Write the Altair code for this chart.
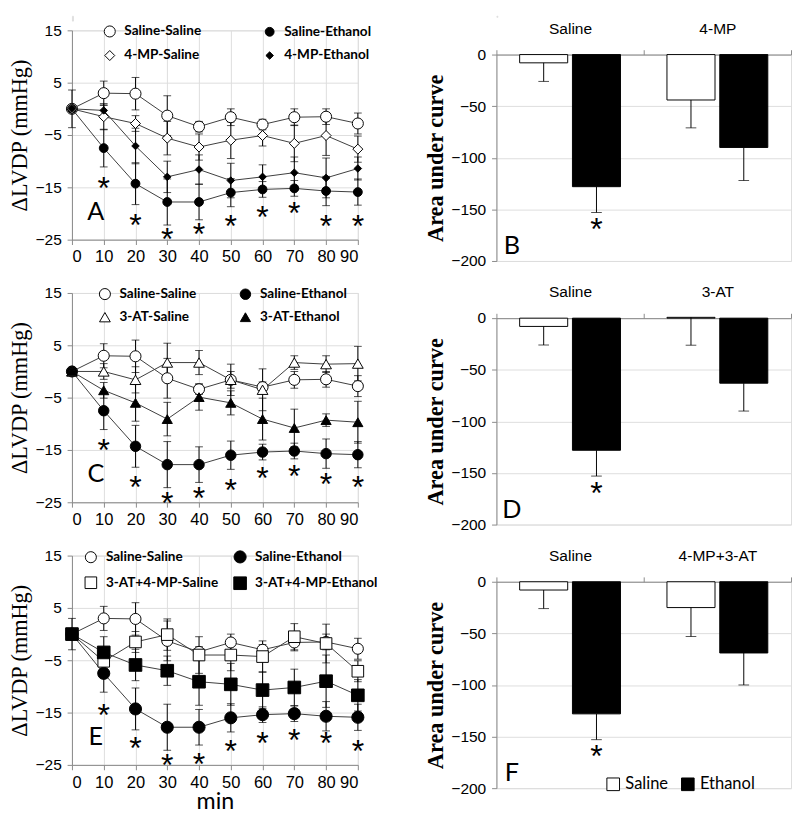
import altair as alt
import pandas as pd

# ---------------- data ----------------
minutes = [0, 10, 20, 30, 40, 50, 60, 70, 80, 90]
star_minutes = [10, 20, 30, 40, 50, 60, 70, 80, 90]

saline_saline = [0, 3.0, 2.9, -1.3, -3.4, -1.6, -3.0, -1.6, -1.5, -2.8]
saline_saline_err = [0, 2.3, 3.1, 3.8, 1.0, 1.6, 1.0, 1.6, 1.5, 2.0]
saline_ethanol = [0, -7.5, -14.3, -17.8, -17.8, -16.0, -15.4, -15.2, -15.7, -15.9]
saline_ethanol_err = [0, 3.6, 4.0, 4.4, 3.4, 2.7, 1.5, 1.5, 2.8, 2.5]

mp_saline = [0, -1.5, -2.8, -5.6, -7.3, -6.0, -5.1, -6.6, -5.1, -7.7]
mp_saline_err = [3.6, 2.5, 1.5, 3.2, 2.5, 3.5, 2.0, 3.5, 3.8, 2.5]
mp_ethanol = [0, -0.3, -7.1, -13.0, -11.6, -13.7, -13.0, -12.2, -13.2, -11.4]
mp_ethanol_err = [0, 1.0, 3.4, 3.0, 2.8, 3.3, 2.3, 3.0, 3.8, 2.2]

at_saline = [0, 0.0, -1.6, 1.7, 1.7, -1.6, -3.5, 1.7, 1.4, 1.5]
at_saline_err = [0, 1.5, 2.5, 3.7, 2.3, 3.0, 4.0, 1.3, 1.6, 3.3]
at_ethanol = [0, -3.6, -6.0, -9.1, -4.9, -6.0, -9.1, -10.8, -9.3, -9.7]
at_ethanol_err = [0, 1.5, 3.5, 3.2, 2.5, 2.3, 4.0, 3.6, 1.2, 4.0]

combo_saline = [0, -5.2, -1.5, -0.1, -4.0, -4.0, -4.3, -0.5, -1.8, -7.1]
combo_saline_err = [3.0, 2.0, 2.0, 3.0, 3.5, 3.0, 3.0, 2.5, 3.7, 2.0]
combo_ethanol = [0, -3.5, -5.9, -7.0, -9.1, -9.6, -10.7, -10.2, -9.0, -11.7]
combo_ethanol_err = [0, 3.0, 3.0, 2.8, 4.5, 4.0, 3.5, 3.5, 5.0, 3.0]

stars_A = [-13.9, -21.0, -23.7, -22.7, -21.1, -19.5, -18.6, -21.1, -21.1]
stars_C = [-13.8, -20.8, -23.9, -23.0, -21.4, -19.2, -18.7, -20.3, -20.8]
stars_E = [-14.3, -20.5, -23.7, -23.5, -21.2, -19.6, -19.0, -19.6, -21.2]

treatments = ["Saline", "Ethanol"]
groups_B = ["Saline", "4-MP"]
auc_B = [-8, -128, -44, -90]
auc_B_err = [18, 25, 27, 32]
groups_D = ["Saline", "3-AT"]
auc_D = [-8, -128, 0.8, -63]
auc_D_err = [18, 25, 27, 27]
groups_F = ["Saline", "4-MP+3-AT"]
auc_F = [-8, -128, -25, -69]
auc_F_err = [18, 25, 28, 31]
auc_star = -163

# ---------------- styling ----------------
SANS = "Lato"
SERIF = "Liberation Serif"
LW, LH = 295, 216
BW, BH = 304, 213


def line_panel(names, vals, errs, shapes, fills, sizes, stars, letter, xtitle, legx, colpad):
    rows = []
    for n, v, e in zip(names, vals, errs):
        for t, vv, ee in zip(minutes, v, e):
            rows.append({"series": n, "t": t, "v": vv, "e": ee, "lo": vv - ee, "hi": vv + ee})
    df = pd.DataFrame(rows)
    sdf = pd.DataFrame({"t": star_minutes, "y": stars})
    ldf = pd.DataFrame({"t": [7.5], "y": [-19.7], "label": [letter]})

    xs = alt.Scale(domain=[0, 90], nice=False)
    ys = alt.Scale(domain=[-25, 15], nice=False)
    xax = alt.Axis(values=minutes, title=xtitle, titleFont=SANS,
                   titleFontSize=24, titleFontWeight="normal", titlePadding=0,
                   labelFontSize=17, tickSize=5, labelPadding=5, labelOverlap=False,
                   labelSeparation=0)
    yax = alt.Axis(values=[-25, -15, -5, 5, 15], title="ΔLVDP (mmHg)", titleFont=SERIF,
                   titleFontSize=23, titleFontWeight="normal", titlePadding=4,
                   labelFontSize=16, tickSize=5, labelPadding=6, labelOverlap=False)
    X = alt.X("t:Q", scale=xs, axis=xax)
    Y = alt.Y("v:Q", scale=ys, axis=yax)
    base = alt.Chart(df)
    lines = base.mark_line(color="#3a3a3a", strokeWidth=1).encode(x=X, y=Y, detail="series:N")
    ebase = base.transform_filter("datum.e > 0")
    rules = ebase.mark_rule(color="black", strokeWidth=1).encode(
        x=X, y=alt.Y("lo:Q", scale=ys, axis=yax), y2="hi:Q")
    cap_lo = ebase.mark_tick(color="black", thickness=1, size=8, orient="horizontal").encode(
        x=X, y=alt.Y("lo:Q", scale=ys, axis=yax))
    cap_hi = ebase.mark_tick(color="black", thickness=1, size=8, orient="horizontal").encode(
        x=X, y=alt.Y("hi:Q", scale=ys, axis=yax))
    order = [names[0], names[2], names[1], names[3]]
    leg = alt.Legend(orient="none", legendX=legx, legendY=-6, columns=2, columnPadding=colpad,
                     rowPadding=9, title=None, labelFont=SANS, labelFontWeight="bold",
                     labelFontSize=14, labelColor="black", symbolStrokeWidth=1, labelOffset=8,
                     values=order)
    points = base.mark_point(filled=True, strokeWidth=1, opacity=1).encode(
        x=X, y=Y,
        shape=alt.Shape("series:N", scale=alt.Scale(domain=order, range=[shapes[0], shapes[2], shapes[1], shapes[3]]), legend=leg),
        fill=alt.Fill("series:N", scale=alt.Scale(domain=order, range=[fills[0], fills[2], fills[1], fills[3]]), legend=leg),
        stroke=alt.Stroke("series:N", scale=alt.Scale(domain=order, range=["black"] * 4), legend=leg),
        size=alt.Size("series:N", scale=alt.Scale(domain=order, range=[sizes[0], sizes[2], sizes[1], sizes[3]]), legend=leg),
    )
    st = alt.Chart(sdf).mark_text(text="*", font="Liberation Sans", fontSize=33, dy=8,
                                  color="black").encode(x=X, y=alt.Y("y:Q", scale=ys, axis=yax))
    lt = alt.Chart(ldf).mark_text(font=SANS, fontSize=26, color="black").encode(
        x=X, y=alt.Y("y:Q", scale=ys, axis=yax), text="label:N")
    return alt.layer(lines, rules, cap_lo, cap_hi, points, st, lt).properties(width=LW, height=LH)


def bar_panel(groups, vals, errs, letter, legend):
    rows = []
    i = 0
    for g in groups:
        for tr in treatments:
            rows.append({"group": g, "treat": tr, "v": vals[i], "lo": vals[i] - errs[i]})
            i += 1
    df = pd.DataFrame(rows)
    sdf = pd.DataFrame({"group": [groups[0]], "treat": ["Ethanol"], "y": [auc_star]})
    ldf = pd.DataFrame({"group": [groups[0]], "y": [-186], "label": [letter]})

    X = alt.X("group:N", sort=groups,
              scale=alt.Scale(domain=groups, paddingInner=0, paddingOuter=0),
              axis=alt.Axis(orient="top", title=None, labelAngle=0, tickBand="extent",
                            tickSize=5, labelFontSize=16, labelPadding=14))
    XO = alt.XOffset("treat:N", sort=treatments,
                     scale=alt.Scale(domain=treatments, paddingInner=0.09, paddingOuter=0.44))
    Y = alt.Y("v:Q", scale=alt.Scale(domain=[-200, 0], nice=False),
              axis=alt.Axis(values=[0, -50, -100, -150, -200], title="Area under curve",
                            titleFont=SERIF, titleFontSize=23, titleFontWeight="bold",
                            titlePadding=4, labelFontSize=16, tickSize=5, labelPadding=6))
    base = alt.Chart(df)
    if legend:
        leg = alt.Legend(orient="none", legendX=112, legendY=200, direction="horizontal",
                         title=None, labelFont=SANS, labelFontSize=17, labelColor="black",
                         symbolType="square", symbolSize=170, symbolStrokeColor="black",
                         symbolStrokeWidth=1, labelOffset=4, columnPadding=10)
        F = alt.Fill("treat:N", scale=alt.Scale(domain=treatments, range=["white", "black"]),
                     legend=leg)
    else:
        F = alt.Fill("treat:N", scale=alt.Scale(domain=treatments, range=["white", "black"]),
                     legend=None)
    bars = base.mark_bar(stroke="black", strokeWidth=1).encode(x=X, xOffset=XO, y=Y, fill=F)
    rule = base.mark_rule(color="black", strokeWidth=1).encode(
        x=X, xOffset=XO, y=Y, y2="lo:Q")
    cap = base.mark_tick(color="black", thickness=1, size=11, orient="horizontal").encode(
        x=X, xOffset=XO, y=alt.Y("lo:Q", scale=alt.Scale(domain=[-200, 0], nice=False)))
    st = alt.Chart(sdf).mark_text(text="*", font="Liberation Sans", fontSize=33, dy=8,
                                  color="black").encode(x=X, xOffset=XO, y=alt.Y("y:Q"))
    lt = alt.Chart(ldf).mark_text(font=SANS, fontSize=26, color="black", dx=-60).encode(
        x=X, y=alt.Y("y:Q"), text="label:N")
    return alt.layer(bars, rule, cap, st, lt).properties(width=BW, height=BH)


def spacer(h):
    return alt.Chart(pd.DataFrame({"s": [0]})).mark_point(opacity=0).encode(
        x=alt.value(0), y=alt.value(0)).properties(width=1, height=h)


ind = dict(x="independent", y="independent", shape="independent", fill="independent",
           size="independent", xOffset="independent", stroke="independent")
lind = dict(shape="independent", fill="independent", size="independent", stroke="independent")

A = line_panel(["Saline-Saline", "Saline-Ethanol", "4-MP-Saline", "4-MP-Ethanol"],
               [saline_saline, saline_ethanol, mp_saline, mp_ethanol],
               [saline_saline_err, saline_ethanol_err, mp_saline_err, mp_ethanol_err],
               ["circle", "circle", "diamond", "diamond"],
               ["white", "black", "white", "black"], [130, 160, 60, 70], stars_A, "A", None,
               32, 63)
C = line_panel(["Saline-Saline", "Saline-Ethanol", "3-AT-Saline", "3-AT-Ethanol"],
               [saline_saline, saline_ethanol, at_saline, at_ethanol],
               [saline_saline_err, saline_ethanol_err, at_saline_err, at_ethanol_err],
               ["circle", "circle", "triangle-up", "triangle-up"],
               ["white", "black", "white", "black"], [130, 160, 110, 120], stars_C, "C", None,
               27, 42)
E = line_panel(["Saline-Saline", "Saline-Ethanol", "3-AT+4-MP-Saline", "3-AT+4-MP-Ethanol"],
               [saline_saline, saline_ethanol, combo_saline, combo_ethanol],
               [saline_saline_err, saline_ethanol_err, combo_saline_err, combo_ethanol_err],
               ["circle", "circle", "square", "square"],
               ["white", "black", "white", "black"], [130, 160, 170, 170], stars_E, "E", "min",
               12, 12)
B = bar_panel(groups_B, auc_B, auc_B_err, "B", False)
D = bar_panel(groups_D, auc_D, auc_D_err, "D", False)
F = bar_panel(groups_F, auc_F, auc_F_err, "F", True)


def column(first, second, third, sp, h):
    head = alt.vconcat(spacer(h), first, spacing=0).resolve_scale(**ind).resolve_legend(**lind)
    return alt.vconcat(head, second, third, spacing=sp).resolve_scale(**ind).resolve_legend(**lind)


left = column(A, C, E, 19, 5)
right = column(B, D, F, 14, 1)

chart = alt.hconcat(left, right, spacing=46).resolve_scale(**ind).resolve_legend(
    **lind).properties(padding={"left": 0, "top": -9, "right": 0, "bottom": 0}
).configure_view(stroke=None).configure_axis(
    domainColor="black", tickColor="black", labelColor="black", titleColor="black",
    grid=False, labelFont=SANS, domainWidth=1, tickWidth=1, labelOverlap=False
).configure(background="white")

chart.save("out.html", embed_options={"renderer": "svg", "actions": False})
